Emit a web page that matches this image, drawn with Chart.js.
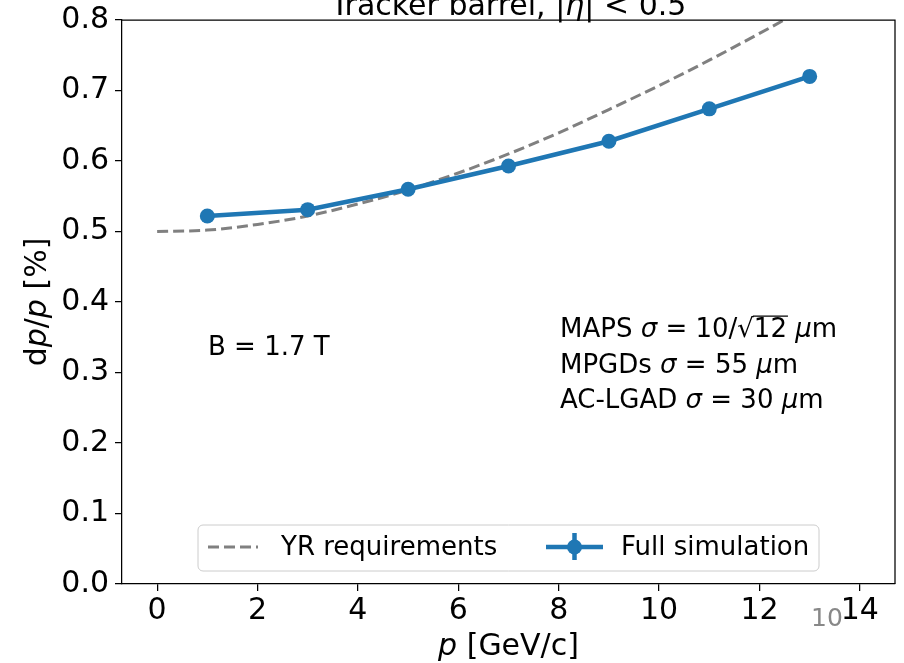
<!DOCTYPE html>
<html><head><meta charset="utf-8">
<script src="https://cdn.jsdelivr.net/npm/chart.js@4.4.0/dist/chart.umd.min.js"></script>
<style>html,body{margin:0;padding:0;background:#fff;}</style>
</head><body>
<canvas id="c" width="904" height="663"></canvas>
<script>
// ---- data ----
const momentum = [1, 3, 5, 7, 9, 11, 13];
const fullSim  = [0.522, 0.531, 0.560, 0.593, 0.628, 0.674, 0.720];
const yrMomentum = [0, 1, 2, 3, 4, 5, 6, 7, 8, 9, 10, 11, 12, 13, 14];
const yrReq      = [0.500, 0.502, 0.510, 0.522, 0.539, 0.559, 0.583, 0.610, 0.640, 0.673, 0.707, 0.743, 0.781, 0.820, 0.860];
const xTicks = [0, 2, 4, 6, 8, 10, 12, 14];
const yTicks = [0.0, 0.1, 0.2, 0.3, 0.4, 0.5, 0.6, 0.7, 0.8];
const seriesNames = ['YR requirements', 'Full simulation'];

const FONT = "'DejaVu Sans'";
const BLUE = '#1f77b4';
const GRAY = '#808080';

function font(size, italic) { return (italic ? 'italic ' : '') + size + 'px ' + FONT; }

function runsWidth(ctx, runs, size) {
  let w = 0;
  for (const r of runs) { ctx.font = font(size, r.i); w += ctx.measureText(r.t).width; }
  return w;
}
function drawRuns(ctx, runs, x, y, size, align) {
  const w = runsWidth(ctx, runs, size);
  let cx = align === 'center' ? x - w / 2 : (align === 'right' ? x - w : x);
  ctx.textAlign = 'left';
  ctx.textBaseline = 'alphabetic';
  for (const r of runs) {
    ctx.font = font(size, r.i);
    ctx.fillText(r.t, cx, y);
    const rw = ctx.measureText(r.t).width;
    if (r.o) {
      ctx.save();
      ctx.lineWidth = 1.3;
      ctx.strokeStyle = ctx.fillStyle;
      ctx.beginPath();
      ctx.moveTo(cx - 1, y - size * 0.80);
      ctx.lineTo(cx + rw + 1, y - size * 0.80);
      ctx.stroke();
      ctx.restore();
    }
    cx += rw;
  }
}

const overlay = {
  id: 'overlay',
  afterDraw(chart) {
    const ctx = chart.ctx;
    const a = chart.chartArea;
    ctx.save();
    ctx.strokeStyle = '#000';
    ctx.lineWidth = 1.25;
    ctx.beginPath();
    ctx.moveTo(a.left, a.top); ctx.lineTo(a.right, a.top); ctx.lineTo(a.right, a.bottom);
    ctx.stroke();

    ctx.fillStyle = '#000';
    drawRuns(ctx, [{t: 'Tracker barrel, |'}, {t: 'η', i: true}, {t: '| < 0.5'}], (a.left + a.right) / 2, 14.5, 30, 'center');

    drawRuns(ctx, [{t: 'p', i: true}, {t: ' [GeV/c]'}], (a.left + a.right) / 2, 655, 30, 'center');

    ctx.save();
    ctx.translate(46, (a.top + a.bottom) / 2);
    ctx.rotate(-Math.PI / 2);
    drawRuns(ctx, [{t: 'd'}, {t: 'p', i: true}, {t: '/'}, {t: 'p', i: true}, {t: ' [%]'}], 0, 0, 30, 'center');
    ctx.restore();

    drawRuns(ctx, [{t: 'B = 1.7 T'}], 208, 355, 26, 'left');
    drawRuns(ctx, [{t: 'MAPS '}, {t: 'σ', i: true}, {t: ' = 10/√'}, {t: '12', o: true}, {t: ' '}, {t: 'μ', i: true}, {t: 'm'}], 560, 337, 26, 'left');
    drawRuns(ctx, [{t: 'MPGDs '}, {t: 'σ', i: true}, {t: ' = 55 '}, {t: 'μ', i: true}, {t: 'm'}], 560, 373, 26, 'left');
    drawRuns(ctx, [{t: 'AC-LGAD '}, {t: 'σ', i: true}, {t: ' = 30 '}, {t: 'μ', i: true}, {t: 'm'}], 560, 408, 26, 'left');

    const lx = 198, ly = 525, lw = 621, lh = 46, rr = 5;
    ctx.beginPath();
    ctx.moveTo(lx + rr, ly);
    ctx.arcTo(lx + lw, ly, lx + lw, ly + lh, rr);
    ctx.arcTo(lx + lw, ly + lh, lx, ly + lh, rr);
    ctx.arcTo(lx, ly + lh, lx, ly, rr);
    ctx.arcTo(lx, ly, lx + lw, ly, rr);
    ctx.closePath();
    ctx.fillStyle = 'rgba(255,255,255,0.8)';
    ctx.fill();
    ctx.strokeStyle = '#cccccc';
    ctx.lineWidth = 1;
    ctx.stroke();

    const cy = 547;
    ctx.save();
    ctx.strokeStyle = GRAY; ctx.lineWidth = 3; ctx.setLineDash([11, 5]);
    ctx.beginPath(); ctx.moveTo(208, cy); ctx.lineTo(258, cy); ctx.stroke();
    ctx.restore();
    ctx.strokeStyle = BLUE; ctx.lineWidth = 4.5;
    ctx.beginPath(); ctx.moveTo(546, cy); ctx.lineTo(603, cy); ctx.stroke();
    ctx.beginPath(); ctx.moveTo(574.5, cy - 14); ctx.lineTo(574.5, cy + 13); ctx.stroke();
    ctx.fillStyle = BLUE;
    ctx.beginPath(); ctx.arc(574.5, cy, 7.5, 0, Math.PI * 2); ctx.fill();

    ctx.fillStyle = '#000';
    ctx.font = font(26);
    ctx.textBaseline = 'middle';
    ctx.textAlign = 'left';
    ctx.fillText(seriesNames[0], 281, cy + 1);
    ctx.fillText(seriesNames[1], 621, cy + 1);

    ctx.fillStyle = '#888888';
    ctx.font = font(25);
    ctx.textBaseline = 'alphabetic';
    ctx.fillText('10', 811, 626);
    ctx.restore();
  }
};

new Chart(document.getElementById('c'), {
  type: 'line',
  data: {
    datasets: [
      {
        label: seriesNames[1],
        data: momentum.map((p, i) => ({x: p, y: fullSim[i]})),
        borderColor: BLUE, backgroundColor: BLUE,
        borderWidth: 4.5, pointRadius: 7.5, pointBorderWidth: 0,
        pointBackgroundColor: BLUE, tension: 0
      },
      {
        label: seriesNames[0],
        data: yrMomentum.map((p, i) => ({x: p, y: yrReq[i]})),
        borderColor: GRAY, borderWidth: 3, borderDash: [11, 5],
        pointRadius: 0, cubicInterpolationMode: 'monotone'
      }
    ]
  },
  options: {
    responsive: false, animation: false, devicePixelRatio: 1,
    layout: {padding: {top: 20, right: 9, left: 0, bottom: 0}},
    plugins: {legend: {display: false}, tooltip: {enabled: false}, title: {display: false}},
    scales: {
      x: {
        type: 'linear', min: -0.7, max: 14.7,
        afterBuildTicks: s => { s.ticks = xTicks.map(v => ({value: v})); },
        afterFit: s => { s.height = 79; s.paddingLeft = 0; s.paddingRight = 0; },
        ticks: {font: {family: FONT, size: 30}, color: '#000', padding: 2, maxRotation: 0, autoSkip: false,
                callback: v => String(v)},
        grid: {drawOnChartArea: false, drawTicks: true, tickLength: 7, color: '#000', lineWidth: 1.25},
        border: {display: true, color: '#000', width: 1.25}
      },
      y: {
        type: 'linear', min: 0, max: 0.8,
        afterBuildTicks: s => { s.ticks = yTicks.map(v => ({value: v})); },
        afterFit: s => { s.width = 122; s.paddingTop = 0; s.paddingBottom = 0; },
        ticks: {font: {family: FONT, size: 30}, color: '#000', padding: 6, autoSkip: false,
                callback: v => Number(v).toFixed(1)},
        grid: {drawOnChartArea: false, drawTicks: true, tickLength: 7, color: '#000', lineWidth: 1.25},
        border: {display: true, color: '#000', width: 1.25}
      }
    }
  },
  plugins: [overlay]
});
</script>
</body></html>
